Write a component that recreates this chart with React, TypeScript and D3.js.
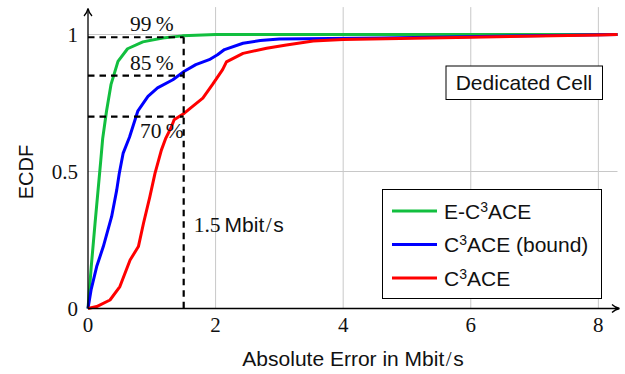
import React, { useEffect, useRef } from 'react'
import * as d3 from 'd3'

// ECDF of the absolute error: [error in Mbit/s, ECDF]
const eC3ace: [number, number][] = [
  [0, 0], [0.05, 0.15], [0.11, 0.31], [0.2, 0.54], [0.23, 0.62], [0.29, 0.72],
  [0.36, 0.817], [0.47, 0.902], [0.62, 0.948], [0.86, 0.973], [1.17, 0.987],
  [1.48, 0.995], [2.0, 1.0], [8.3, 1.0],
]
const c3aceBound: [number, number][] = [
  [0, 0], [0.05, 0.07], [0.136, 0.153], [0.24, 0.226], [0.37, 0.335], [0.45, 0.432],
  [0.49, 0.493], [0.55, 0.566], [0.65, 0.625], [0.78, 0.72], [0.94, 0.774],
  [1.09, 0.805], [1.33, 0.835], [1.51, 0.866], [1.69, 0.89], [1.9, 0.908],
  [2.03, 0.926], [2.14, 0.945], [2.43, 0.968], [2.7, 0.978], [3.0, 0.984],
  [4.6, 0.987], [5.9, 0.992], [7.2, 0.996], [8.3, 1.0],
]
const c3ace: [number, number][] = [
  [0, 0], [0.136, 0.007], [0.345, 0.031], [0.5, 0.08], [0.66, 0.177], [0.79, 0.226],
  [0.87, 0.311], [0.97, 0.408], [1.05, 0.493], [1.15, 0.578], [1.22, 0.622],
  [1.3, 0.659], [1.35, 0.689], [1.51, 0.713], [1.64, 0.738], [1.8, 0.768],
  [1.95, 0.817], [2.11, 0.872], [2.17, 0.9], [2.43, 0.931], [2.8, 0.95],
  [3.11, 0.962], [3.53, 0.976], [4.0, 0.982], [6.0, 0.99], [8.0, 0.998], [8.3, 1.0],
]

const seriesColors = ['#12bf3f', '#0000ff', '#ff0000']
// legend labels as [before superscript, superscript, after]
const seriesLabels = [
  ['E-C', '3', 'ACE'],
  ['C', '3', 'ACE (bound)'],
  ['C', '3', 'ACE'],
]

const xTicks = [0, 2, 4, 6, 8]
const yTicks = [0, 0.5, 1]
const yTickLabels = ['0', '0.5', '1']

const thresholdError = 1.5
const thresholdLevels = [0.99, 0.85, 0.7]
const thresholdLabels = ['99', '85', '70']

const serif = '"Liberation Serif", "DejaVu Serif", serif'
const sans = '"Liberation Sans", Arial, sans-serif'

export default function App() {
  const ref = useRef<SVGSVGElement>(null)

  useEffect(() => {
    const node = ref.current
    if (!node) return
    const svg = d3.select(node)
    svg.selectAll('*').remove()

    const x = d3.scaleLinear().domain([0, 8.3]).range([88, 617.5])
    const y = d3.scaleLinear().domain([0, 1]).range([308.5, 34.5])

    // grid
    const grid = svg.append('g').attr('stroke', '#c8c8c8').attr('stroke-width', 1)
    grid.selectAll('line.v')
      .data(xTicks.filter(d => d > 0))
      .join('line')
      .attr('class', 'v')
      .attr('x1', d => x(d)).attr('x2', d => x(d))
      .attr('y1', y(0)).attr('y2', y(1.1))
    grid.selectAll('line.h')
      .data(yTicks.filter(d => d > 0))
      .join('line')
      .attr('class', 'h')
      .attr('x1', x(0)).attr('x2', x(8.3))
      .attr('y1', d => y(d)).attr('y2', d => y(d))

    // curves
    const line = d3.line<[number, number]>()
      .x(d => x(d[0]))
      .y(d => y(d[1]))
    svg.append('g')
      .selectAll('path')
      .data([eC3ace, c3aceBound, c3ace])
      .join('path')
      .attr('d', d => line(d))
      .attr('fill', 'none')
      .attr('stroke', (d, i) => seriesColors[i])
      .attr('stroke-width', 3)
      .attr('stroke-linejoin', 'round')

    // dashed helper lines at 1.5 Mbit/s
    const dash = svg.append('g')
      .attr('stroke', '#000')
      .attr('stroke-width', 2.2)
      .attr('stroke-dasharray', '6.5,5')
    dash.selectAll('line.h')
      .data(thresholdLevels)
      .join('line')
      .attr('class', 'h')
      .attr('x1', x(0)).attr('x2', x(thresholdError))
      .attr('y1', d => y(d)).attr('y2', d => y(d))
    dash.append('line')
      .attr('x1', x(thresholdError)).attr('x2', x(thresholdError))
      .attr('y1', y(thresholdLevels[0])).attr('y2', y(0))

    // percent labels
    const pct = svg.append('g').attr('font-family', serif).attr('font-size', 21.5).attr('fill', '#111')
    pct.selectAll('text')
      .data(thresholdLevels)
      .join('text')
      .attr('text-anchor', 'end')
      .attr('x', (d, i) => (i === 2 ? x(thresholdError) : x(thresholdError) - 10))
      .attr('y', (d, i) => (i === 2 ? y(d) + 21 : y(d) - 6))
      .text((d, i) => `${thresholdLabels[i]}\u2009%`)

    const mb = svg.append('text')
      .attr('x', x(thresholdError) + 10)
      .attr('y', 231.5)
      .attr('fill', '#111')
    mb.append('tspan').attr('font-family', serif).attr('font-size', 21.5).text('1.5')
    mb.append('tspan').attr('font-family', sans).attr('font-size', 21).attr('dx', 4).text('Mbit')
    mb.append('tspan').attr('font-family', serif).attr('font-size', 21.5).attr('dx', 1.5).text('/')
    mb.append('tspan').attr('font-family', sans).attr('font-size', 21).attr('dx', 1.5).text('s')

    // axes
    const axes = svg.append('g').attr('stroke', '#000').attr('stroke-width', 1.3).attr('fill', 'none')
    axes.append('line').attr('x1', x(0)).attr('x2', 619).attr('y1', y(0)).attr('y2', y(0))
    axes.append('line').attr('x1', x(0)).attr('x2', x(0)).attr('y1', y(0)).attr('y2', 9)
    axes.append('path').attr('d', `M612,${y(0) - 4} Q615,${y(0) - 1} 619.5,${y(0)} Q615,${y(0) + 1} 612,${y(0) + 4}`)
    axes.append('path').attr('d', `M${x(0) - 4},16 Q${x(0) - 1},13 ${x(0)},8.5 Q${x(0) + 1},13 ${x(0) + 4},16`)

    // tick labels
    svg.append('g')
      .attr('font-family', serif).attr('font-size', 21).attr('fill', '#111').attr('text-anchor', 'middle')
      .selectAll('text')
      .data(xTicks)
      .join('text')
      .attr('x', d => x(d))
      .attr('y', 332)
      .text(d => String(d))
    svg.append('g')
      .attr('font-family', serif).attr('font-size', 21).attr('fill', '#111').attr('text-anchor', 'end')
      .selectAll('text')
      .data(yTicks)
      .join('text')
      .attr('x', 78)
      .attr('y', d => y(d) + 7)
      .text((d, i) => yTickLabels[i])

    // axis titles
    const xt = svg.append('text')
      .attr('x', 353).attr('y', 366)
      .attr('text-anchor', 'middle')
      .attr('font-family', sans).attr('font-size', 21).attr('fill', '#111')
    xt.append('tspan').text('Absolute Error in Mbit')
    xt.append('tspan').attr('font-family', serif).attr('dx', 1.5).text('/')
    xt.append('tspan').attr('dx', 1.5).text('s')

    svg.append('text')
      .attr('transform', 'translate(33,172) rotate(-90)')
      .attr('text-anchor', 'middle')
      .attr('font-family', sans).attr('font-size', 20).attr('fill', '#111')
      .text('ECDF')

    // "Dedicated Cell" note
    svg.append('rect')
      .attr('x', 446).attr('y', 66).attr('width', 156.5).attr('height', 33.5)
      .attr('fill', '#fff').attr('stroke', '#000').attr('stroke-width', 1)
    svg.append('text')
      .attr('x', 524).attr('y', 90)
      .attr('text-anchor', 'middle')
      .attr('font-family', sans).attr('font-size', 21).attr('fill', '#111')
      .text('Dedicated Cell')

    // legend
    const legend = svg.append('g')
    legend.append('rect')
      .attr('x', 382.5).attr('y', 189.5).attr('width', 219).attr('height', 109)
      .attr('fill', '#fff').attr('stroke', '#000').attr('stroke-width', 1)
    const rows = legend.selectAll('g.row')
      .data(seriesLabels)
      .join('g')
      .attr('class', 'row')
      .attr('transform', (d, i) => `translate(0,${211 + i * 33.5})`)
    rows.append('line')
      .attr('x1', 392).attr('x2', 437)
      .attr('stroke', (d, i) => seriesColors[i])
      .attr('stroke-width', 3)
    const lt = rows.append('text')
      .attr('x', 444).attr('y', 7.5)
      .attr('font-family', sans).attr('font-size', 21).attr('fill', '#111')
    lt.append('tspan').text(d => d[0])
    lt.append('tspan').attr('font-size', 14).attr('dy', -7).text(d => d[1])
    lt.append('tspan').attr('dy', 7).text(d => d[2])
  }, [])

  return (
    <svg
      ref={ref}
      width={625}
      height={374}
      style={{ position: 'absolute', left: 0, top: 0, background: '#fff' }}
    />
  )
}
